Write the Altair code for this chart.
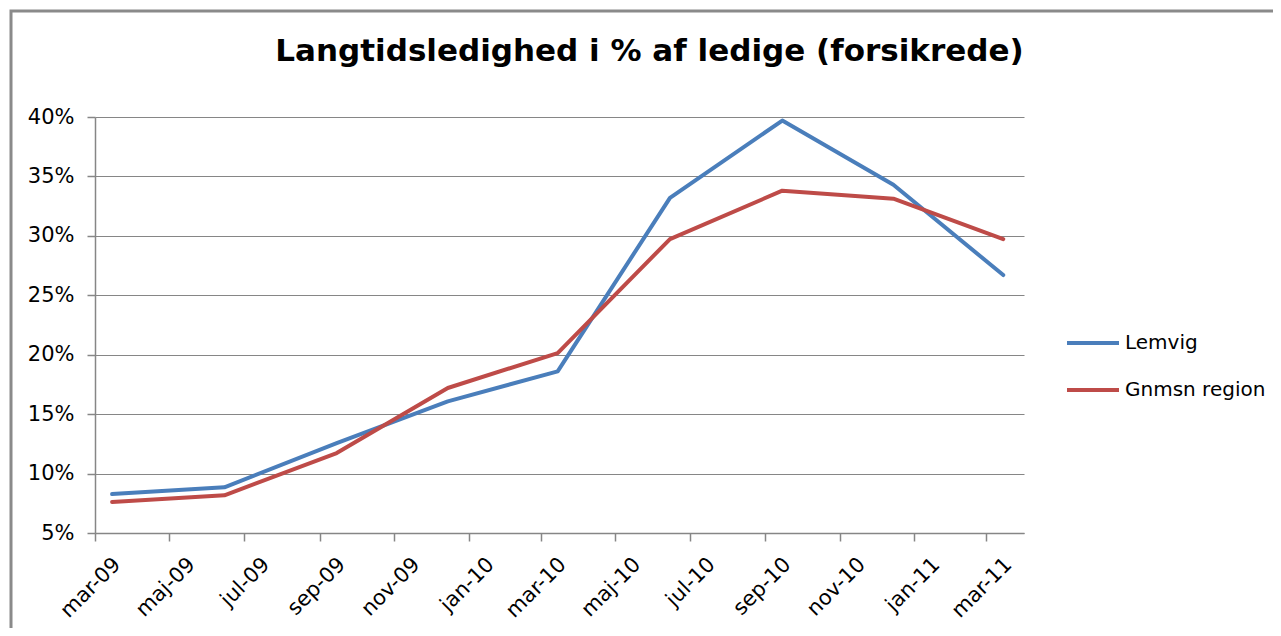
import altair as alt
import pandas as pd

dates = ["2009-03-15", "2009-06-15", "2009-09-15", "2009-12-15", "2010-03-15",
         "2010-06-15", "2010-09-15", "2010-12-15", "2011-03-15"]
lemvig = [0.0828, 0.0884, 0.1257, 0.1607, 0.1860, 0.3320, 0.3970, 0.3430, 0.2670]
region = [0.0761, 0.0817, 0.1173, 0.1720, 0.2014, 0.2973, 0.3380, 0.3313, 0.2973]
series = ["Lemvig", "Gnmsn region"]
colors = ["#4A7EBB", "#BE4B48"]
tick_dates = ["2009-03-01", "2009-05-01", "2009-07-01", "2009-09-01", "2009-11-01",
              "2010-01-01", "2010-03-01", "2010-05-01", "2010-07-01", "2010-09-01",
              "2010-11-01", "2011-01-01", "2011-03-01"]
y_ticks = [0.05, 0.10, 0.15, 0.20, 0.25, 0.30, 0.35, 0.40]
title = "Langtidsledighed i % af ledige (forsikrede)"

df = pd.concat([
    pd.DataFrame({"dato": dates, "værdi": lemvig, "serie": series[0]}),
    pd.DataFrame({"dato": dates, "værdi": region, "serie": series[1]}),
])


def dt(s):
    y, m, d = (int(v) for v in s.split("-"))
    return alt.DateTime(year=y, month=m, date=d, utc=True)


FONT = "DejaVu Sans"
GREY = "#868686"

lines = alt.Chart(df).mark_line(strokeWidth=4, strokeCap="round", strokeJoin="round").encode(
    x=alt.X("dato:T",
            scale=alt.Scale(type="utc", domain=[dt("2009-03-01"), dt("2011-04-01")]),
            axis=alt.Axis(values=[dt(s) for s in tick_dates],
                          labelExpr="lower(replace(utcFormat(datum.value, '%b-%y'), 'May', 'Maj'))",
                          labelAngle=-45, labelAlign="right", labelBaseline="middle",
                          labelPadding=20, labelOffset=22,
                          labelFont=FONT, labelFontSize=21, labelColor="#000000",
                          tickColor=GREY, tickSize=8, tickWidth=1.5,
                          domainColor=GREY, domainWidth=1.5,
                          grid=False, title=None, labelOverlap=False)),
    y=alt.Y("værdi:Q",
            scale=alt.Scale(domain=[0.05, 0.40], nice=False, zero=False),
            axis=alt.Axis(values=y_ticks, format=".0%",
                          labelFont=FONT, labelFontSize=21, labelColor="#000000",
                          labelPadding=13,
                          tickColor=GREY, tickSize=8, tickWidth=1.5,
                          domainColor=GREY, domainWidth=1.5,
                          gridColor=GREY, gridWidth=1.2, title=None)),
    color=alt.Color("serie:N",
                    scale=alt.Scale(domain=series, range=colors),
                    legend=alt.Legend(orient="none", legendX=970, legendY=198,
                                      title=None, symbolType="stroke",
                                      symbolStrokeWidth=4, symbolSize=2704,
                                      labelFont=FONT, labelFontSize=20,
                                      labelColor="#000000", labelOffset=4,
                                      rowPadding=9)),
)

frame = alt.Chart(pd.DataFrame({"k": [0]})).mark_rect(
    fill=None, stroke="#8a8a8a", strokeWidth=3
).encode(x=alt.value(-84), x2=alt.value(1300), y=alt.value(-106), y2=alt.value(700))

chart = alt.layer(frame, lines).properties(
    width=929, height=416,
    title=alt.TitleParams(title, font=FONT, fontSize=31, fontWeight="bold",
                          color="#000000", anchor="middle", dx=90,
                          baseline="alphabetic", offset=-82),
    autosize=alt.AutoSizeParams(type="none"),
    padding={"left": 87, "top": 109, "right": 249, "bottom": 95},
).configure_view(stroke=None)

chart.save("out.html", embed_options={"renderer": "svg", "actions": False})
